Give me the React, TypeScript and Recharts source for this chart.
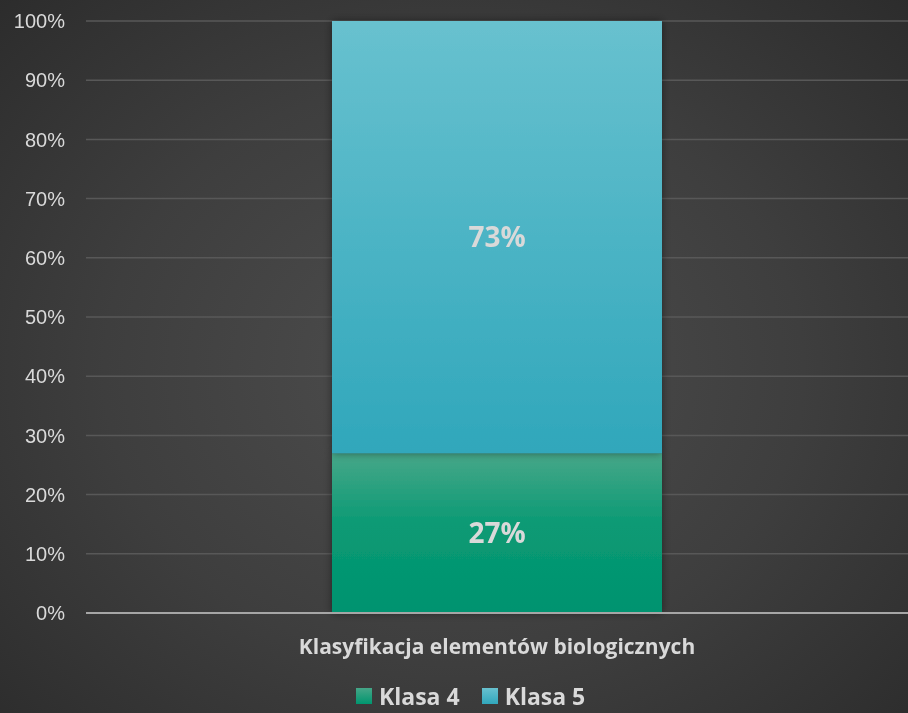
import React from "react";
import {
  BarChart,
  Bar,
  XAxis,
  YAxis,
  CartesianGrid,
  LabelList,
  Legend,
} from "recharts";

/* ── Data ───────────────────────────────────────────────────── */

const categories = ["Klasyfikacja elementów biologicznych"];
const klasa4 = [27];
const klasa5 = [73];
const yTicks = [0, 10, 20, 30, 40, 50, 60, 70, 80, 90, 100];

const data = categories.map((name, i) => ({
  name,
  k4: klasa4[i],
  k5: klasa5[i],
}));

/* ── Styles ─────────────────────────────────────────────────── */

const W = 908;
const H = 713;
const TEXT = "#d9d9d9";
const BOLD_FONT = "'Open Sans', 'DejaVu Sans', sans-serif";

const CategoryTick = (props: any) => {
  const { x, payload } = props;
  return (
    <text
      x={x}
      y={654}
      textAnchor="middle"
      fill={TEXT}
      fontFamily={BOLD_FONT}
      fontWeight={700}
      fontSize={21}
    >
      {payload.value}
    </text>
  );
};

const LegendBox = () => {
  const items = [
    { label: "Klasa 4", grad: "linear-gradient(#46a688, #00966f)" },
    { label: "Klasa 5", grad: "linear-gradient(#68c1cf, #31a7bc)" },
  ];
  return (
    <div style={{ display: "flex", alignItems: "center" }}>
      {items.map((it) => (
        <div
          key={it.label}
          style={{ display: "flex", alignItems: "center", marginRight: 22 }}
        >
          <span
            style={{
              width: 16,
              height: 16,
              background: it.grad,
              display: "inline-block",
              marginRight: 7,
            }}
          />
          <span
            style={{
              color: TEXT,
              fontFamily: BOLD_FONT,
              fontWeight: 700,
              fontSize: 23,
              lineHeight: "26px",
            }}
          >
            {it.label}
          </span>
        </div>
      ))}
    </div>
  );
};

export default function App() {
  return (
    <div
      style={{
        position: "fixed",
        left: 0,
        top: 0,
        width: W,
        height: H,
        background:
          "radial-gradient(ellipse 70% 75% at 50% 52%, #4e4e4e 0%, #3e3e3e 55%, #2c2c2c 100%)",
      }}
    >
      <BarChart
        width={W}
        height={H}
        data={data}
        margin={{ top: 21, right: 0, bottom: 34, left: 0 }}
      >
        <defs>
          <linearGradient id="gK4" x1="0" y1="0" x2="0" y2="1">
            <stop offset="0%" stopColor="#47a789" />
            <stop offset="45%" stopColor="#0a9a74" />
            <stop offset="100%" stopColor="#00936f" />
          </linearGradient>
          <linearGradient id="gK5" x1="0" y1="0" x2="0" y2="1">
            <stop offset="0%" stopColor="#68c1cf" />
            <stop offset="100%" stopColor="#30a7bb" />
          </linearGradient>
          <filter id="barShadow" x="-10%" y="-10%" width="120%" height="120%">
            <feDropShadow dx="0" dy="0" stdDeviation="4" floodColor="#000" floodOpacity="0.45" />
          </filter>
        </defs>
        <CartesianGrid vertical={false} stroke="#585858" strokeWidth={1.5} />
        <XAxis
          dataKey="name"
          height={40}
          axisLine={{ stroke: "#a6a6a6", strokeWidth: 2 }}
          tickLine={false}
          tick={<CategoryTick />}
          interval={0}
        />
        <YAxis
          width={86}
          domain={[0, 100]}
          ticks={yTicks}
          interval={0}
          axisLine={false}
          tickLine={false}
          tickMargin={15}
          tickFormatter={(v: number) => `${v}%`}
          tick={{ fill: TEXT, fontSize: 20, fontFamily: "'Liberation Sans', Arial, sans-serif" }}
        />
        <Legend
          verticalAlign="bottom"
          content={<LegendBox />}
          wrapperStyle={{ left: 356, bottom: 4, width: "auto" }}
        />
        <Bar
          dataKey="k4"
          stackId="s"
          name="Klasa 4"
          fill="url(#gK4)"
          barSize={330}
          filter="url(#barShadow)"
          isAnimationActive={false}
        >
          <LabelList
            dataKey="k4"
            position="center"
            formatter={(v: number) => `${v}%`}
            fill={TEXT}
            fontFamily={BOLD_FONT}
            fontWeight={700}
            fontSize={28}
          />
        </Bar>
        <Bar
          dataKey="k5"
          stackId="s"
          name="Klasa 5"
          fill="url(#gK5)"
          barSize={330}
          filter="url(#barShadow)"
          isAnimationActive={false}
        >
          <LabelList
            dataKey="k5"
            position="center"
            formatter={(v: number) => `${v}%`}
            fill={TEXT}
            fontFamily={BOLD_FONT}
            fontWeight={700}
            fontSize={28}
          />
        </Bar>
      </BarChart>
    </div>
  );
}
